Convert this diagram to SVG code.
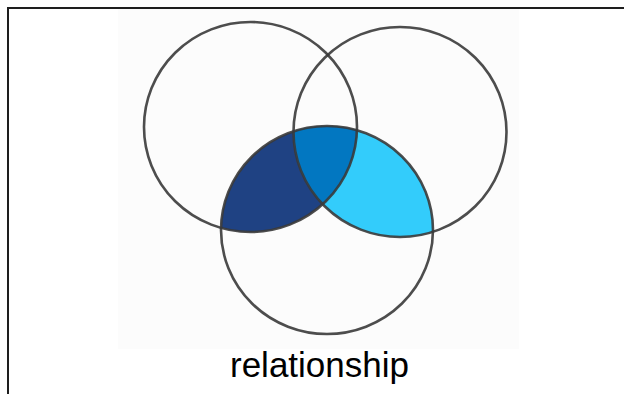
<svg xmlns="http://www.w3.org/2000/svg" width="624" height="394" viewBox="0 0 624 394">
<style>
.ring{fill:none;stroke:#3a3a3a;stroke-width:2.6;stroke-opacity:0.9}
.frame{fill:none;stroke:#1e1e1e;stroke-width:2}
.label{font-family:"Liberation Sans",Arial,sans-serif;font-size:35px;fill:#000}
</style>
<defs>
<clipPath id="cL"><ellipse cx="250.5" cy="127" rx="106.5" ry="105"/></clipPath>
<clipPath id="cR"><ellipse cx="400" cy="132" rx="106.5" ry="105"/></clipPath>
</defs>
<rect width="624" height="394" fill="#ffffff"/>
<rect x="118" y="8" width="401" height="341" fill="#fcfcfc"/>
<g id="frame">
<polyline class="frame" points="8,394 8,8 624,8"/>
</g>
<g id="regions">
<g clip-path="url(#cL)"><ellipse cx="327" cy="230" rx="106" ry="104" fill="#1f4283"/></g>
<g clip-path="url(#cR)"><ellipse cx="327" cy="230" rx="106" ry="104" fill="#33ccfb"/></g>
<g clip-path="url(#cL)"><g clip-path="url(#cR)"><ellipse cx="327" cy="230" rx="106" ry="104" fill="#0277c1"/></g></g>
</g>
<g id="set-left"><ellipse class="ring" cx="250.5" cy="127" rx="106.5" ry="105"/></g>
<g id="set-right"><ellipse class="ring" cx="400" cy="132" rx="106.5" ry="105"/></g>
<g id="set-bottom"><ellipse class="ring" cx="327" cy="230" rx="106" ry="104"/></g>
<g id="label"><text class="label" x="319.5" y="377" text-anchor="middle" textLength="179" lengthAdjust="spacingAndGlyphs">relationship</text></g>
</svg>
